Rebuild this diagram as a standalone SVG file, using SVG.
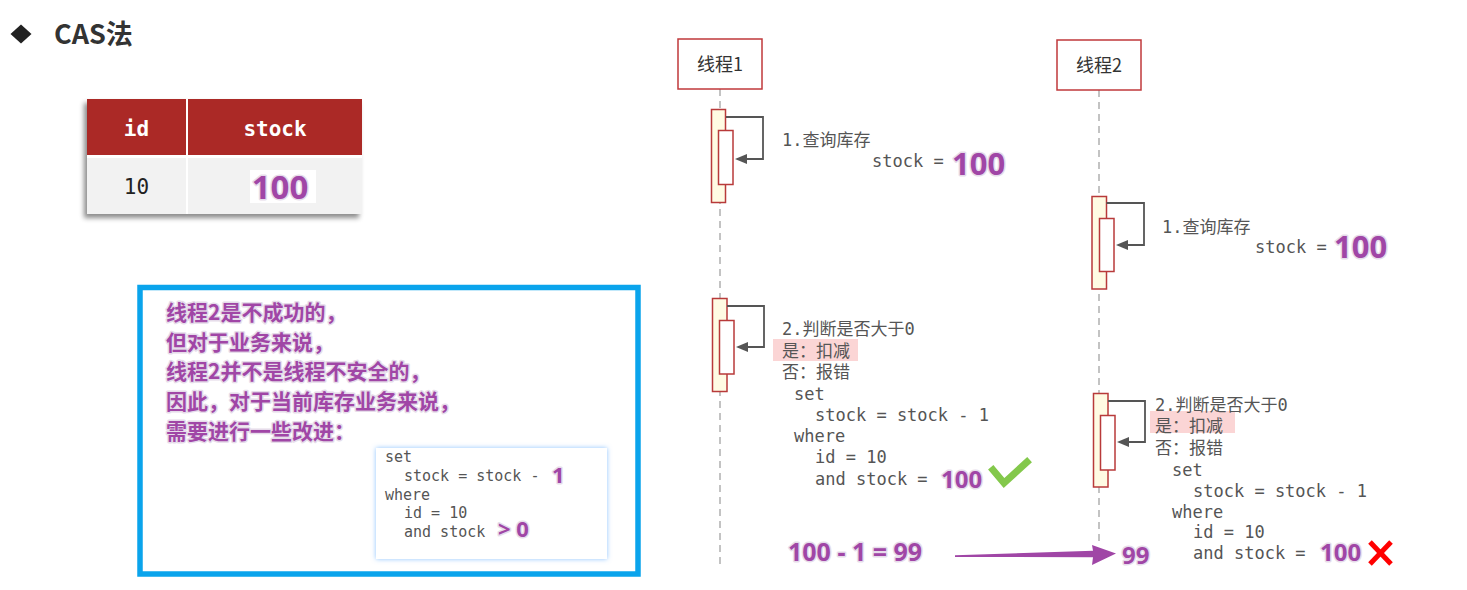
<svg xmlns="http://www.w3.org/2000/svg" width="1467" height="590" viewBox="0 0 1467 590">
<style>
.mono{font-family:"DejaVu Sans Mono","Liberation Mono","Noto Sans CJK SC",monospace;fill:#555;font-size:17px}
.cjk{font-family:"Noto Sans CJK SC","Noto Sans",sans-serif}
.big{font-family:"Noto Sans","Liberation Sans",sans-serif;font-weight:bold;fill:#a046a6;stroke:#e6dcea;stroke-width:3;paint-order:stroke;stroke-linejoin:round}
.note{font-family:"Noto Sans CJK SC",sans-serif;font-weight:bold;font-size:21px;fill:#a046a6;stroke:#e6dcea;stroke-width:3;paint-order:stroke;stroke-linejoin:round}
.life{stroke:#b0b0b0;stroke-width:1.5;stroke-dasharray:7 5;fill:none}
.head{fill:#fff;stroke:#c0393b;stroke-width:1.5}
.actO{fill:#fffbe3;stroke:#b83a3a;stroke-width:1.5}
.actI{fill:#fff;stroke:#b83a3a;stroke-width:1.5}
.self{fill:none;stroke:#555;stroke-width:1.8}
.hl{fill:#fbd5d5}
.code{font-family:"DejaVu Sans Mono","Liberation Mono",monospace;fill:#555;font-size:15px}
</style>
<defs>
<marker id="ah" viewBox="0 0 12 10" refX="1" refY="5" markerWidth="12" markerHeight="10" markerUnits="userSpaceOnUse" orient="auto">
<path d="M0,5 L12,0 L12,10 Z" fill="#555" transform="rotate(180 6 5)"/>
</marker>
<filter id="tsh" x="-10%" y="-10%" width="120%" height="130%">
<feDropShadow dx="-3" dy="4" stdDeviation="2.5" flood-color="#000" flood-opacity="0.45"/>
</filter>
<filter id="bsh" x="-10%" y="-15%" width="120%" height="130%">
<feDropShadow dx="0" dy="0" stdDeviation="2.5" flood-color="#6fb3ff" flood-opacity="0.8"/>
</filter>
</defs>
<rect width="1467" height="590" fill="#fff"/>

<g id="title">
<path d="M21,24.5 L31.5,34 L21,43.5 L10.5,34 Z" fill="#222"/>
<text x="54" y="44" font-family="'Noto Sans CJK SC','Noto Sans',sans-serif" font-weight="bold" font-size="27" fill="#333">CAS法</text>
</g>

<g id="table">
<g filter="url(#tsh)">
<rect x="87" y="99" width="275" height="115" fill="#fff"/>
</g>
<rect x="87" y="99" width="99" height="56" fill="#ab2926"/>
<rect x="188" y="99" width="174" height="56" fill="#ab2926"/>
<rect x="87" y="158" width="99" height="56" fill="#f2f2f2"/>
<rect x="188" y="158" width="174" height="56" fill="#f2f2f2"/>
<text x="136.5" y="136" text-anchor="middle" font-family="'DejaVu Sans Mono',monospace" font-weight="bold" font-size="21" fill="#fff">id</text>
<text x="275" y="136" text-anchor="middle" font-family="'DejaVu Sans Mono',monospace" font-weight="bold" font-size="21" fill="#fff">stock</text>
<text x="136.5" y="194" text-anchor="middle" font-family="'DejaVu Sans Mono',monospace" font-size="21" fill="#222">10</text>
<rect x="250" y="170" width="66" height="33" fill="#fff"/>
<text x="280" y="199" text-anchor="middle" class="big" font-size="33">100</text>
</g>

<g id="thread1">
<line class="life" x1="720" y1="89" x2="720" y2="566"/>
<rect class="head" x="678" y="39" width="84" height="50"/>
<text x="720" y="71" text-anchor="middle" class="cjk" font-size="18" fill="#333">线程1</text>
</g>

<g id="thread2">
<line class="life" x1="1099" y1="90" x2="1099" y2="545"/>
<rect class="head" x="1057" y="40" width="84" height="50"/>
<text x="1099" y="72" text-anchor="middle" class="cjk" font-size="18" fill="#333">线程2</text>
</g>

<g id="t1-query">
<rect class="actO" x="711.5" y="109.5" width="14" height="93"/>
<rect class="actI" x="718.5" y="130.5" width="14.5" height="54"/>
<text class="mono" x="782" y="146">1.查询库存</text>
<text class="mono" x="872" y="167">stock = </text>
<text class="big" x="952" y="175" font-size="31">100</text>
</g>

<g id="t2-query">
<rect class="actO" x="1092" y="196.5" width="14.5" height="92.5"/>
<rect class="actI" x="1099.5" y="218.5" width="14.5" height="53"/>
<text class="mono" x="1162" y="233">1.查询库存</text>
<text class="mono" x="1255" y="253">stock = </text>
<text class="big" x="1334" y="258" font-size="31">100</text>
</g>

<g id="t1-update">
<rect class="actO" x="712.5" y="298.5" width="14.5" height="93"/>
<rect class="actI" x="719.5" y="320.5" width="14.5" height="53.5"/>
<rect class="hl" x="773" y="339" width="85" height="22"/>
<text class="mono" x="782" y="335">2.判断是否大于0</text>
<text class="mono" x="782" y="357" fill="#6a4a4a">是：扣减</text>
<text class="mono" x="782" y="378">否：报错</text>
<text class="mono" x="794" y="400">set</text>
<text class="mono" x="815" y="421">stock = stock - 1</text>
<text class="mono" x="794" y="442">where</text>
<text class="mono" x="815" y="463">id = 10</text>
<text class="mono" x="815" y="485">and stock = </text>
<text class="big" x="941" y="488" font-size="24">100</text>
<polyline points="993,470 1004,483 1027,462" fill="none" stroke="#83c84b" stroke-width="7" stroke-linecap="square"/>
</g>

<g id="t2-update">
<rect class="actO" x="1093.5" y="393.5" width="14.5" height="93.5"/>
<rect class="actI" x="1100.5" y="415.5" width="14.5" height="54.5"/>
<rect class="hl" x="1150" y="411" width="85" height="22"/>
<text class="mono" x="1155" y="411">2.判断是否大于0</text>
<text class="mono" x="1155" y="432" fill="#6a4a4a">是：扣减</text>
<text class="mono" x="1155" y="454">否：报错</text>
<text class="mono" x="1172" y="476">set</text>
<text class="mono" x="1193" y="497">stock = stock - 1</text>
<text class="mono" x="1172" y="518">where</text>
<text class="mono" x="1193" y="538">id = 10</text>
<text class="mono" x="1193" y="559">and stock = </text>
<text class="big" x="1320" y="561" font-size="24">100</text>
<g stroke="#ff0000" stroke-width="5" stroke-linecap="butt">
<line x1="1370" y1="542" x2="1391" y2="564"/>
<line x1="1391" y1="542" x2="1370" y2="564"/>
</g>
</g>

<g id="result">
<text class="big" x="788" y="561" font-size="25">100 - 1 = 99</text>
<text class="big" x="1122" y="564" font-size="24">99</text>
</g>

<g id="note">
<rect x="140" y="287.5" width="498" height="286.5" fill="#fff" stroke="#0aa4ec" stroke-width="5.5"/>
<text class="note" x="166" y="320">线程2是不成功的，</text>
<text class="note" x="166" y="350">但对于业务来说，</text>
<text class="note" x="166" y="379">线程2并不是线程不安全的，</text>
<text class="note" x="166" y="409">因此，对于当前库存业务来说，</text>
<text class="note" x="166" y="439">需要进行一些改进：</text>
<rect x="376" y="448" width="231" height="111" fill="#fff" filter="url(#bsh)"/>
<text class="code" x="385" y="462">set</text>
<text class="code" x="404" y="481">stock = stock - </text>
<text class="big" x="552" y="483" font-size="22">1</text>
<text class="code" x="385" y="500">where</text>
<text class="code" x="404" y="518">id = 10</text>
<text class="code" x="404" y="537">and stock </text>
<text class="big" x="498" y="537" font-size="22">&gt; 0</text>
</g>

<g id="connectors">
<polyline class="self" points="726,117 763,117 763,159 746,159" marker-end="url(#ah)"/>
<polyline class="self" points="1106.5,203 1144,203 1144,245 1127,245" marker-end="url(#ah)"/>
<polyline class="self" points="727,306 764,306 764,347 747,347" marker-end="url(#ah)"/>
<polyline class="self" points="1108,401 1145,401 1145,442 1128,442" marker-end="url(#ah)"/>
<polygon points="955,555.3 1093,550.8 1092,545 1116,553.5 1092,565 1093,557.2 955,557" fill="#a046a6"/>
</g>
</svg>
